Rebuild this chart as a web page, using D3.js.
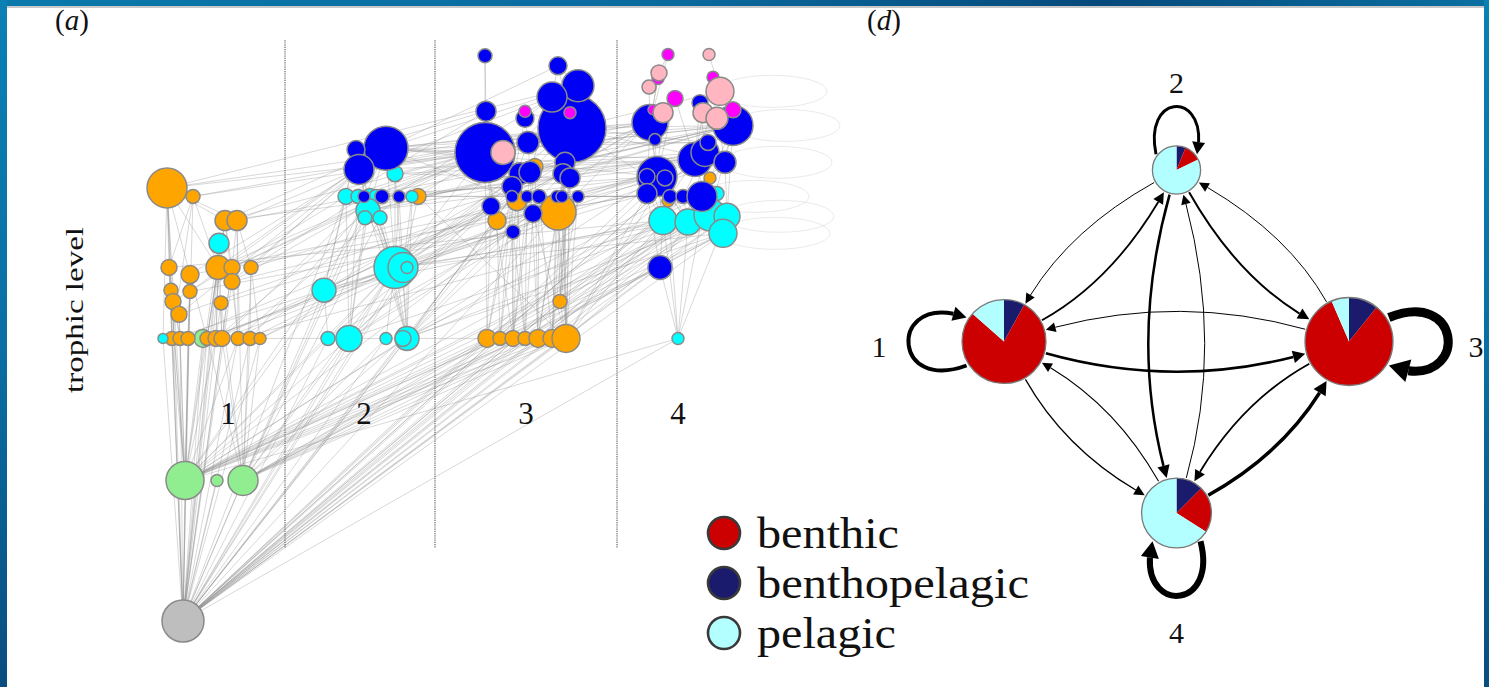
<!DOCTYPE html>
<html>
<head>
<meta charset="utf-8">
<script src="https://cdn.jsdelivr.net/npm/d3@7"></script>
<style>
  html, body { margin: 0; padding: 0; background: #fff; overflow: hidden; }
  svg { display: block; }
  text { font-family: "Liberation Serif", "Times New Roman", "DejaVu Serif", serif; fill: #111; }
</style>
</head>
<body>
<svg id="fig" width="1489" height="687"></svg>
<script>
// ---------------- Panel (a): food web by module and trophic level ----------------
// Each species: [id, layout position across the panel, trophic level, node size]
const detritusNodes = [["d0", 33, 1.00, 21]];
const producerNodes = [
  ["g1", 35, 1.99, 19], ["g2", 67, 1.99, 6], ["g3", 93, 1.99, 15], ["g4", 53, 2.99, 9]
];
const orangeNodes = [
  ["o1", 17, 4.05, 20], ["o2", 43, 3.99, 7], ["o3", 75, 3.82, 10], ["o4", 87, 3.82, 10],
  ["o5", 19, 3.49, 8], ["o6", 40, 3.44, 9], ["o7", 68, 3.49, 12], ["o8", 82, 3.49, 8], ["o9", 101, 3.49, 7],
  ["o10", 82, 3.39, 8], ["o11", 21, 3.33, 7], ["o12", 40, 3.32, 7], ["o13", 23, 3.25, 8], ["o14", 29, 3.16, 8],
  ["o15", 71, 3.24, 7],
  ["o16", 22, 2.99, 7], ["o17", 30, 2.99, 7], ["o18", 38, 2.99, 7], ["o19", 57, 2.99, 7], ["o20", 66, 2.99, 8],
  ["o21", 72, 2.99, 8], ["o22", 88, 2.99, 7], ["o23", 100, 2.99, 7], ["o24", 110, 2.99, 6],
  ["o25", 268, 3.99, 8],
  ["o26", 385, 4.20, 8], ["o27", 367, 3.96, 10], ["o28", 408, 3.88, 18], ["o29", 347, 3.82, 9], ["o30", 410, 3.25, 7],
  ["o31", 337, 2.99, 9], ["o32", 350, 2.99, 7], ["o33", 363, 2.99, 8], ["o34", 375, 2.99, 7], ["o35", 388, 2.99, 9],
  ["o36", 402, 2.99, 9], ["o37", 416, 2.99, 14],
  ["o38", 518, 3.96, 6], ["o39", 560, 4.12, 6]
];
const cyanNodes = [
  ["c1", 13, 2.99, 5], ["c2", 69, 3.66, 10],
  ["c3", 245, 4.15, 8], ["c4", 196, 3.99, 8], ["c5", 208, 3.99, 7], ["c6", 220, 3.99, 8], ["c7", 226, 3.99, 7],
  ["c8", 262, 3.99, 6],
  ["c9", 218, 3.89, 12], ["c10", 215, 3.84, 7], ["c11", 230, 3.84, 7],
  ["c12", 245, 3.49, 21], ["c13", 253, 3.49, 15], ["c14", 257, 3.49, 6], ["c15", 174, 3.33, 12],
  ["c16", 178, 2.99, 7], ["c17", 199, 2.99, 13], ["c18", 236, 2.99, 6], ["c19", 257, 2.99, 12], ["c20", 253, 2.99, 8],
  ["c21", 513, 3.82, 14], ["c22", 538, 3.81, 13], ["c23", 560, 3.86, 16], ["c24", 577, 3.85, 13],
  ["c25", 573, 3.73, 14], ["c26", 567, 4.01, 7], ["c27", 528, 2.99, 6]
];
const blueNodes = [
  ["b1", 236, 4.33, 22], ["b2", 206, 4.32, 9], ["b3", 209, 4.18, 15],
  ["b4", 214, 3.99, 6], ["b5", 232, 3.99, 7], ["b6", 249, 3.99, 6],
  ["b7", 335, 4.98, 7], ["b8", 408, 4.91, 9], ["b9", 422, 4.47, 34], ["b10", 428, 4.77, 16], ["b11", 402, 4.69, 15],
  ["b12", 336, 4.59, 10], ["b13", 375, 4.54, 9], ["b14", 335, 4.30, 30], ["b15", 378, 4.37, 11],
  ["b16", 370, 4.15, 11], ["b17", 380, 4.16, 11], ["b18", 415, 4.23, 10], ["b19", 413, 4.15, 10], ["b20", 420, 4.12, 10],
  ["b21", 362, 4.06, 10], ["b22", 362, 3.99, 6], ["b23", 377, 3.99, 6], ["b24", 389, 3.99, 7], ["b25", 407, 3.99, 6],
  ["b26", 412, 3.99, 6], ["b27", 428, 3.99, 6], ["b28", 341, 3.92, 9], ["b29", 383, 3.87, 9], ["b30", 363, 3.74, 7],
  ["b31", 500, 4.51, 18], ["b32", 550, 4.65, 8], ["b33", 583, 4.49, 20], ["b34", 505, 4.39, 6],
  ["b35", 507, 4.13, 20], ["b36", 497, 4.13, 8], ["b37", 515, 4.12, 8], ["b38", 545, 4.25, 17], ["b39", 555, 4.30, 14],
  ["b40", 575, 4.23, 11], ["b41", 558, 4.37, 8], ["b42", 497, 4.01, 10], ["b43", 520, 3.99, 7], ["b44", 533, 3.99, 7],
  ["b45", 552, 3.99, 15], ["b46", 510, 3.49, 12]
];
const magentaNodes = [
  ["m1", 375, 4.59, 6], ["m2", 420, 4.58, 6], ["m3", 518, 4.99, 6], ["m4", 508, 4.82, 6],
  ["m5", 563, 4.83, 6], ["m6", 525, 4.68, 8], ["m7", 503, 4.60, 5], ["m8", 583, 4.60, 8]
];
const pinkNodes = [
  ["k1", 353, 4.30, 12], ["k2", 559, 4.99, 6], ["k3", 509, 4.86, 8], ["k4", 499, 4.76, 7],
  ["k5", 570, 4.73, 14], ["k6", 513, 4.58, 10], ["k7", 553, 4.58, 10], ["k8", 567, 4.54, 11]
];

// Feeding links, written as "predator: prey prey ..."
const dietLinks = [
  "o1: o3 o4 o5 o6 o7 o11 o13 c1 g1 d0", "o2: o5 o7 o16 g1", "o3: o7 o8 o10 o19 d0", "o4: o8 o9 o22 g3",
  "c2: o20 o21 g1 d0", "o5: o16 o17 d0 g1", "o6: o18 o19 d0", "o7: o19 o20 o21 g1 d0", "o8: o21 o22 d0",
  "o9: o23 o24 g3", "o10: o22 d0", "o11: o16 g1", "o12: o18 d0", "o13: o17 d0", "o14: o17 g1", "o15: o20 g3",
  "o16: d0 g1", "o17: d0 g1", "o18: d0 g1", "o19: d0 g3", "o20: d0 g1", "o21: d0 g3", "o22: d0 g1",
  "o23: d0 g3", "o24: d0 g3", "c1: d0", "g4: d0 g1", "g1: d0", "g2: d0", "g3: d0",
  "b1: c9 c12 c3 c5 o3 o7 b14 o27 c15 o10 o12", "b2: c4 c9 c15", "b3: c6 c9 c12 o4 o9 o6 o14", "c3: c12 c19",
  "c4: c15 c17 d0 o13", "c5: c12 c17", "c6: c12 c19 g3 o21", "c7: c12 o23", "c8: c13 c19",
  "b4: c9 c12 o9", "b5: c9 o10 o8", "b6: c13 c12 o22", "o25: c13 o37",
  "c9: c17 c19 g3 o20", "c10: c17 g1", "c11: c19 g3",
  "c12: c16 c17 c18 c19 g1 g3 d0 o23 o24 o16 o19", "c13: c19 d0", "c14: c19 d0", "c15: c16 g1 d0",
  "c16: d0 g1", "c17: d0 g1 g3", "c18: d0 g3", "c19: d0 g1", "c20: d0 g3",
  "b7: b12 b14", "b8: b11 b9 b10 b1", "b9: b15 b17 b19 o28 o30 o37 c12 b1 o1 b20 o3 c9 c6 o2 b3 c3",
  "b10: b11 b18 o28 b1 c12 o1", "b11: b17 b19 b13 b3 c9", "b12: b14 b16 b2 c4", "b13: b15 b21",
  "m1: b9 b13", "m2: b9 b10",
  "b14: b21 b28 o29 o31 o33 c12 o7 c9 b3 o8 c4 c5 c6 o2 o25 b2", "k1: b14 b16", "b15: b21 b17", "o26: o33 o35",
  "b16: o31 o33 c17 c12 c13 c9", "b17: o33 o35 o22 c19 c17", "b18: o36 o37 o30 c12 b1", "b19: o35 o37 c19 c15",
  "b20: o36 o30 o37 c3", "b21: o31 o32 c4 c6", "o27: o32 o34 d0 o17", "o28: o35 o36 o37 o30 d0 c17 o19 o21",
  "b22: o33 c19", "b23: o34 o20", "b24: o35 o36", "b25: o36 c19", "b26: o37 o24", "b27: o37 o30",
  "b28: o31 c16 c15 o14", "b29: o34 o37 c17 o19", "o29: o32 d0", "b30: o33 o34 c16 o12", "o30: o37 d0",
  "o31: d0 g1", "o32: d0 g1", "o33: d0 g3", "o34: d0 g1", "o35: d0 g3 g1", "o36: d0 g1 g3", "o37: d0 g1 g3 o24",
  "m3: k3 b31", "k2: k5", "m4: b31", "k3: b31", "k4: b31", "m5: k5", "k5: b33 k8 b32 b9 b38", "m6: b31 b38 b35",
  "b31: b35 b42 b34 c21 b14 b9 o28 b1 c12 b3 b21 o27 b17 g1", "m7: b31", "k6: b31 b35", "b32: b38 b39",
  "b33: b40 b45 c23 c24 b9 b1 o4 o9 b14 o25 c9 o1 b16 b19 d0", "m8: b33", "k7: b33 b38", "k8: b33 b40", "b34: b35",
  "b35: c21 c22 b42 o28 o10 d0 b1 c9 o7 b21 b28 g1", "b36: c21 b9", "b37: c22 o37",
  "b38: c23 b43 b14 o15 b3 c3 o3 b17 d0", "b39: c23 b44 c12 c9 o25 b18", "b40: c24 b45 b9 c12 b20 o29 d0",
  "b41: c22 b9 b2 b15", "b42: c21 b46 o37 d0 c15 o6 o29", "b43: c22 c19 c4 o31", "b44: c22 o37 c6 o33",
  "b45: c23 c24 c25 b46 d0 o35 c20 b24",
  "o38: c27", "o39: c27",
  "c21: c27 b46 d0 g1 c15 o5 o31", "c22: c27 c12 d0 g3 c17 o33 g1", "c23: o37 d0 g1 o22 c13 o35 g3",
  "c24: c27 d0 g1 c19 o36 g3", "c25: d0 g3 c12 c20 o34 g1", "c26: d0",
  "b46: c27 d0 g1 g3", "c27: d0 g1"
];
// Cannibalistic species (self-links)
const selfLinks = ["k5", "b33", "b40", "b45", "c24", "c25"];

const moduleNames = ["1", "2", "3", "4"];
const moduleLabelX = [78, 214, 376, 528];
const moduleLabelLevel = 2.39;
const moduleBoundaries = [135, 285, 467];
const boundarySpan = [1.51, 5.09];

// ---------------- Panel (d): aggregated module network ----------------
const habitats = ["benthopelagic", "benthic", "pelagic"];
const habitatColors = { benthic: "#cc0000", benthopelagic: "#1b1b6e", pelagic: "#b3ffff" };
// habitat shares per module, in the order of `habitats`
const moduleShares = [
  [0.08, 0.785, 0.135],
  [0.061, 0.117, 0.822],
  [0.108, 0.827, 0.065],
  [0.125, 0.215, 0.66]
];
const moduleWeight = [91, 30, 100, 63];
const moduleLayout = [[-1, 0], [0, -1], [1, 0], [0, 1]];
// [from, to, flow]
const interModuleFlows = [
  [1, 2, 20], [2, 1, 11], [2, 3, 22], [3, 2, 11], [1, 3, 28], [3, 1, 11],
  [2, 4, 28], [4, 2, 11], [1, 4, 14], [4, 1, 12], [3, 4, 20], [4, 3, 38]
];
const withinModuleFlows = [44, 33, 100, 67];
const legendItems = ["benthic", "benthopelagic", "pelagic"];

// ======================================================================
const svg = d3.select("#fig");
const W = 1489, H = 687;

// page frame
const defs = svg.append("defs");
const topGrad = defs.append("linearGradient").attr("id", "barTop").attr("x1", 0).attr("x2", 1).attr("y1", 0).attr("y2", 0);
[[0, "#0a79ab"], [0.45, "#0a6a9e"], [0.74, "#064a7b"], [1, "#0a70a2"]]
  .forEach(([o, c]) => topGrad.append("stop").attr("offset", o).attr("stop-color", c));
const sideGrad = defs.append("linearGradient").attr("id", "barSide").attr("x1", 0).attr("x2", 0).attr("y1", 0).attr("y2", 1);
[[0, "#0a80b3"], [0.5, "#0a6fa3"], [1, "#0a4d7f"]]
  .forEach(([o, c]) => sideGrad.append("stop").attr("offset", o).attr("stop-color", c));
svg.append("rect").attr("width", W).attr("height", H).attr("fill", "#fff");
svg.append("rect").attr("x", 0).attr("y", 0).attr("width", W).attr("height", 6).attr("fill", "url(#barTop)");
svg.append("rect").attr("x", 7).attr("y", 6).attr("width", W - 7).attr("height", 2).attr("fill", "#c9c9c9");
svg.append("rect").attr("x", 0).attr("y", 0).attr("width", 7).attr("height", H).attr("fill", "url(#barSide)");
svg.append("rect").attr("x", W - 5).attr("y", 0).attr("width", 5).attr("height", H).attr("fill", "url(#barSide)");

// ---------- panel (a) ----------
const xA = d3.scaleLinear().domain([0, 610]).range([150, 760]);
const yA = d3.scaleLinear().domain([1, 5]).range([621, 53]);
const rA = d3.scaleLinear().domain([0, 40]).range([0, 40]);

const guilds = [
  { nodes: detritusNodes, fill: "#bebebe" },
  { nodes: producerNodes, fill: "#90ee90" },
  { nodes: orangeNodes, fill: "#ffa500" },
  { nodes: cyanNodes, fill: "#00ffff" },
  { nodes: blueNodes, fill: "#0000f5" },
  { nodes: magentaNodes, fill: "#ff00ff" },
  { nodes: pinkNodes, fill: "#ffb6c1" }
];
const nodes = [];
guilds.forEach(g => g.nodes.forEach(([id, x, tl, s]) => nodes.push({ id, x, tl, s, fill: g.fill })));
const byId = new Map(nodes.map(n => [n.id, n]));
const links = [];
dietLinks.forEach(row => {
  const [pred, preyList] = row.split(":");
  const p = byId.get(pred.trim());
  preyList.trim().split(/\s+/).forEach(q => {
    const t = byId.get(q);
    if (p && t) links.push({ source: p, target: t });
  });
});

const gA = svg.append("g");
gA.append("g")
  .selectAll("line").data(links).join("line")
  .attr("x1", d => xA(d.source.x)).attr("y1", d => yA(d.source.tl))
  .attr("x2", d => xA(d.target.x)).attr("y2", d => yA(d.target.tl))
  .attr("stroke", "#8c8c8c").attr("stroke-opacity", 0.4).attr("stroke-width", 0.85);

gA.append("g")
  .selectAll("ellipse").data(selfLinks.map(id => byId.get(id))).join("ellipse")
  .attr("cx", d => xA(d.x) + 52).attr("cy", d => yA(d.tl))
  .attr("rx", 55).attr("ry", 16)
  .attr("fill", "none").attr("stroke", "#a0a0a0").attr("stroke-opacity", 0.22).attr("stroke-width", 1);

gA.append("g")
  .selectAll("line").data(moduleBoundaries).join("line")
  .attr("x1", d => xA(d)).attr("x2", d => xA(d))
  .attr("y1", yA(boundarySpan[1])).attr("y2", yA(boundarySpan[0]))
  .attr("stroke", "#7a7a7a").attr("stroke-width", 1.4).attr("stroke-dasharray", "1.2,1");

gA.append("g")
  .selectAll("circle").data(nodes).join("circle")
  .attr("cx", d => xA(d.x)).attr("cy", d => yA(d.tl)).attr("r", d => rA(d.s))
  .attr("fill", d => d.fill).attr("stroke", "#8a8a8a").attr("stroke-width", 1.5);

gA.append("g")
  .selectAll("text").data(moduleNames).join("text")
  .attr("x", (d, i) => xA(moduleLabelX[i])).attr("y", yA(moduleLabelLevel))
  .attr("text-anchor", "middle").attr("font-size", 31).text(d => d);

svg.append("text").attr("transform", "translate(83,310) rotate(-90)")
  .attr("text-anchor", "middle").attr("font-size", 25)
  .attr("textLength", 166).attr("lengthAdjust", "spacingAndGlyphs")
  .text("trophic level");

const labA = svg.append("text").attr("x", 55).attr("y", 30).attr("font-size", 29);
labA.append("tspan").text("(");
labA.append("tspan").attr("font-style", "italic").text("a");
labA.append("tspan").text(")");

// ---------- panel (d) ----------
const xD = d3.scaleLinear().domain([-1, 1]).range([1004, 1349]);
const yD = d3.scaleLinear().domain([-1, 1]).range([170, 513]);
const rD = d3.scaleSqrt().domain([0, 100]).range([0, 44]);
const wD = d3.scaleLinear().domain([0, 100]).range([0, 9]);

const mods = moduleLayout.map(([u, v], i) => ({
  i, x: xD(u), y: yD(v), r: rD(moduleWeight[i]), out: [u, v], shares: moduleShares[i]
}));

const lerp = (a, b, t) => [a[0] + (b[0] - a[0]) * t, a[1] + (b[1] - a[1]) * t];
const dist = (a, b) => Math.hypot(a[0] - b[0], a[1] - b[1]);
function trimParam(fn, tip, len) {
  let t = 1;
  while (t > 0 && dist(fn(t), tip) < len) t -= 0.002;
  return t;
}
function arrowHead(base, tip, half) {
  const dx = tip[0] - base[0], dy = tip[1] - base[1], L = Math.hypot(dx, dy);
  const px = -dy / L, py = dx / L;
  return [tip, [base[0] + px * half, base[1] + py * half], [base[0] - px * half, base[1] - py * half]];
}

const gD = svg.append("g");
const flowShapes = [];

interModuleFlows.forEach(([f, t, flow]) => {
  const a = mods[f - 1], b = mods[t - 1];
  const w = wD(flow);
  const dx = b.x - a.x, dy = b.y - a.y, L = Math.hypot(dx, dy);
  const nx = -dy / L, ny = dx / L;
  const k = 0.14 * L;
  const c = [(a.x + b.x) / 2 + nx * k, (a.y + b.y) / 2 + ny * k];
  const ua = Math.hypot(c[0] - a.x, c[1] - a.y), ub = Math.hypot(c[0] - b.x, c[1] - b.y);
  const s = [a.x + (c[0] - a.x) / ua * (a.r + 1.5), a.y + (c[1] - a.y) / ua * (a.r + 1.5)];
  const tip = [b.x + (c[0] - b.x) / ub * (b.r + 1.5), b.y + (c[1] - b.y) / ub * (b.r + 1.5)];
  const q = tt => lerp(lerp(s, c, tt), lerp(c, tip, tt), tt);
  const head = 9 + w * 1.5, half = 4 + w * 0.9;
  const te = trimParam(q, tip, head - 0.8);
  const c1 = lerp(s, c, te), e = q(te);
  flowShapes.push({
    path: `M${s[0]},${s[1]} Q${c1[0]},${c1[1]} ${e[0]},${e[1]}`,
    head: arrowHead(e, tip, half), w
  });
});

withinModuleFlows.forEach((flow, i) => {
  const m = mods[i];
  const w = wD(flow);
  const u = m.out, wv = [u[1], -u[0]];
  const ext = 20 + m.r * 0.8;
  const v0 = Math.min(m.r * 0.85, 24);
  const U = Math.sqrt(m.r * m.r - v0 * v0) + 3;
  const a = (m.r + ext - U) / 0.75;
  const vmax = ext * 0.5;
  const b = (vmax - 0.484 * v0) / 0.289;
  const P = (uu, vv) => [m.x + u[0] * uu + wv[0] * vv, m.y + u[1] * uu + wv[1] * vv];
  const p0 = P(U, v0), p1 = P(U + a, b), p2 = P(U + a, -b), p3 = P(U, -v0);
  const cub = tt => {
    const ab = lerp(p0, p1, tt), bc = lerp(p1, p2, tt), cd = lerp(p2, p3, tt);
    return lerp(lerp(ab, bc, tt), lerp(bc, cd, tt), tt);
  };
  const head = 9 + w * 1.3, half = 4 + w * 0.85;
  const te = trimParam(cub, p3, head - 0.8);
  const ab = lerp(p0, p1, te), bc = lerp(p1, p2, te), d1 = lerp(ab, bc, te), e = cub(te);
  flowShapes.push({
    path: `M${p0[0]},${p0[1]} C${ab[0]},${ab[1]} ${d1[0]},${d1[1]} ${e[0]},${e[1]}`,
    head: arrowHead(e, p3, half), w
  });
});

gD.append("g").selectAll("path").data(flowShapes).join("path")
  .attr("d", d => d.path).attr("fill", "none").attr("stroke", "#000").attr("stroke-width", d => d.w);
gD.append("g").selectAll("polygon").data(flowShapes).join("polygon")
  .attr("points", d => d.head.map(p => p.join(",")).join(" ")).attr("fill", "#000");

const pie = d3.pie().sort(null).value(d => d.v);
const arc = d3.arc().innerRadius(0);
const pies = gD.append("g").selectAll("g").data(mods).join("g")
  .attr("transform", d => `translate(${d.x},${d.y})`);
pies.selectAll("path")
  .data(d => pie(d.shares.map((v, j) => ({ v, h: habitats[j] }))).map(p => ({ p, r: d.r })))
  .join("path")
  .attr("d", d => arc.outerRadius(d.r)(d.p))
  .attr("fill", d => habitatColors[d.p.data.h]);
pies.append("circle").attr("r", d => d.r).attr("fill", "none").attr("stroke", "#7a7a7a").attr("stroke-width", 1.3);

// module numbers around the diamond
const labelOffset = [[-125, 4], [0, -88], [127, 4], [0, 119]];
gD.append("g").selectAll("text").data(mods).join("text")
  .attr("x", d => d.x + labelOffset[d.i][0]).attr("y", d => d.y + labelOffset[d.i][1] + 11)
  .attr("text-anchor", "middle").attr("font-size", 30).text(d => moduleNames[d.i]);

const labD = svg.append("text").attr("x", 867).attr("y", 30).attr("font-size", 29);
labD.append("tspan").text("(");
labD.append("tspan").attr("font-style", "italic").text("d");
labD.append("tspan").text(")");

// legend
const legendWidths = [142, 272, 139];
const legY = d3.scalePoint().domain(legendItems).range([533, 633]);
const leg = svg.append("g").selectAll("g").data(legendItems).join("g")
  .attr("transform", d => `translate(724,${legY(d)})`);
leg.append("circle").attr("r", 16).attr("fill", d => habitatColors[d])
  .attr("stroke", "#3a3a3a").attr("stroke-width", 2.6);
leg.append("text").attr("x", 33).attr("y", 15).attr("font-size", 45)
  .attr("textLength", (d, i) => legendWidths[i]).attr("lengthAdjust", "spacingAndGlyphs")
  .text(d => d);
</script>
</body>
</html>
